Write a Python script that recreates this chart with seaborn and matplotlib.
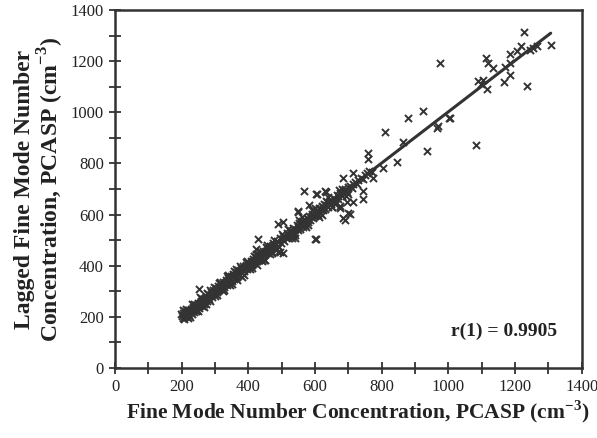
import matplotlib
matplotlib.use("Agg")
import matplotlib.pyplot as plt
import seaborn as sns
import numpy as np
import pandas as pd
from matplotlib.ticker import MultipleLocator

# ---- data ----
band_x = [200, 203, 205, 208, 210, 212, 215, 217, 220, 222, 225, 228, 230, 232, 235, 237, 240, 242, 245, 247,
          250, 252, 255, 257, 260, 262, 265, 268, 270, 272, 275, 278, 280, 282, 285, 288, 290, 292, 295, 298,
          300, 302, 305, 308, 310, 312, 315, 318, 320, 322, 325, 328, 330, 332, 335, 338, 340, 342, 345, 348,
          350, 352, 355, 358, 360, 362, 365, 368, 370, 372, 375, 378, 380, 383, 385, 388, 390, 393, 395, 398,
          400, 403, 405, 408, 410, 413, 415, 418, 420, 423, 425, 428, 430, 433, 435, 438, 440, 443, 445, 448,
          450, 455, 458, 460, 465, 468, 470, 475, 478, 480, 485, 488, 490, 495, 498, 500, 505, 508, 510, 515,
          518, 520, 525, 528, 530, 535, 538, 540, 545, 548, 550, 553, 555, 558, 560, 563, 565, 568, 570, 573,
          575, 578, 580, 583, 585, 588, 590, 593, 595, 598, 600, 603, 605, 608, 610, 613, 615, 618, 620, 623,
          625, 628, 630, 633, 635, 638, 640, 645, 648, 650, 655, 658, 660, 665, 668, 670, 675, 680, 685, 690,
          695, 700, 705, 710, 715, 720, 725, 730, 738, 745, 750, 755, 762, 770]
band_y = [205, 195, 215, 200, 222, 208, 198, 212, 225, 206, 218, 232, 212, 224, 240, 218, 230, 245, 228, 238,
          255, 236, 248, 262, 244, 256, 270, 252, 266, 280, 262, 274, 290, 270, 284, 296, 278, 290, 305, 288,
          300, 314, 296, 310, 322, 304, 316, 330, 312, 326, 338, 318, 332, 345, 326, 340, 352, 334, 348, 360,
          342, 356, 368, 350, 362, 374, 356, 370, 382, 364, 378, 390, 372, 386, 398, 378, 392, 404, 386, 400,
          412, 394, 408, 420, 402, 416, 428, 410, 424, 436, 418, 430, 444, 424, 438, 450, 432, 446, 458, 440,
          454, 468, 450, 462, 478, 458, 472, 488, 470, 482, 498, 478, 494, 508, 490, 504, 518, 498, 512, 528,
          508, 522, 538, 518, 532, 548, 528, 542, 558, 538, 552, 566, 545, 560, 574, 552, 566, 580, 560, 574,
          588, 570, 584, 596, 578, 592, 604, 586, 600, 612, 594, 606, 618, 600, 614, 626, 608, 620, 632, 616,
          628, 640, 622, 636, 648, 630, 644, 656, 640, 652, 664, 650, 662, 676, 660, 672, 686, 674, 690, 700,
          688, 706, 712, 702, 720, 728, 718, 736, 744, 738, 756, 762, 770, 765]

thick_x = [198, 206, 214, 226, 236, 248, 258, 266, 276, 286, 296, 306, 316, 326, 336, 346, 356, 366, 376, 386,
           396, 406, 416, 426, 436, 446, 456, 466, 476, 486, 520, 540, 560, 580, 600, 620, 640, 660, 680, 700,
           204, 218, 232, 244, 254, 272, 284, 300, 312, 324, 338, 352, 364, 380, 392, 410, 422, 440, 452, 470,
           500, 530, 552, 572, 592, 612, 632, 652, 672, 692]
thick_y = [212, 190, 230, 200, 252, 222, 274, 240, 292, 262, 316, 284, 336, 306, 358, 326, 378, 344, 398, 362,
           418, 386, 438, 404, 458, 424, 480, 446, 500, 464, 545, 520, 590, 560, 625, 598, 668, 640, 700, 680,
           228, 196, 252, 222, 278, 250, 306, 280, 334, 302, 362, 330, 388, 356, 414, 390, 444, 418, 474, 450,
           525, 510, 578, 552, 616, 592, 655, 630, 696, 672]

outlier_x = [253, 430, 490, 505, 600, 568, 548, 685, 705, 675, 715, 745, 745, 630, 605, 650, 760, 760, 805, 845,
             810, 865, 880, 923, 935, 967, 775, 490, 505, 450, 685, 715, 603, 633, 550, 583, 423, 495, 540, 603,
             700, 690, 675, 696, 1003, 1082, 1228, 1307, 975, 1113, 1120, 1135, 1090, 1105, 1115, 1167, 1185,
             1185, 1170, 1185, 1217, 1207, 1245, 1235, 1098, 970, 1005, 1255, 1265]
outlier_y = [308, 503, 563, 571, 503, 693, 615, 585, 602, 633, 650, 693, 659, 693, 679, 631, 839, 816, 781, 807,
             924, 885, 976, 1005, 848, 937, 742, 455, 448, 422, 742, 761, 680, 689, 611, 637, 464, 455, 507, 503,
             605, 579, 624, 650, 978, 874, 1313, 1264, 1192, 1213, 1193, 1173, 1122, 1127, 1090, 1118, 1144,
             1192, 1176, 1226, 1261, 1239, 1245, 1102, 1110, 945, 978, 1252, 1258]

x_ticks = [0, 200, 400, 600, 800, 1000, 1200, 1400]
y_ticks = [0, 200, 400, 600, 800, 1000, 1200, 1400]
x_label = r"Fine Mode Number Concentration, PCASP (cm$^{\mathbf{-3}}$)"
y_label = "Lagged Fine Mode Number\n" + r"Concentration, PCASP (cm$^{\mathbf{-3}}$)"
r_text = "r(1) = 0.9905"

df = pd.DataFrame({
    "x": band_x + thick_x + outlier_x,
    "y": band_y + thick_y + outlier_y,
})

# ---- style ----
sns.set_style("white")
plt.rcParams["font.family"] = ["Liberation Serif", "DejaVu Serif"]
plt.rcParams["mathtext.fontset"] = "custom"
plt.rcParams["mathtext.rm"] = "Liberation Serif"
plt.rcParams["mathtext.bf"] = "Liberation Serif:bold"

ink = "#333333"
fig = plt.figure(figsize=(5.97, 4.38), dpi=100)
ax = fig.add_axes([115 / 597, 1 - 368 / 438, (581.7 - 115) / 597, (368 - 10) / 438])

sns.scatterplot(data=df, x="x", y="y", ax=ax, marker="x", s=26, color=ink,
                linewidth=1.4, legend=False)
sns.regplot(data=df, x="x", y="y", ax=ax, scatter=False, ci=None, truncate=True,
            line_kws=dict(color=ink, lw=2.2))

ax.set_xlim(0, 1400)
ax.set_ylim(0, 1400)
ax.set_xticks(x_ticks)
ax.set_yticks(y_ticks)
ax.set_xticklabels([str(t) for t in x_ticks])
ax.set_yticklabels([str(t) for t in y_ticks])
ax.xaxis.set_minor_locator(MultipleLocator(100))
ax.yaxis.set_minor_locator(MultipleLocator(100))
ax.tick_params(which="both", direction="inout", length=8, width=1.3, color=ink,
               bottom=True, left=True, top=False, right=False)
ax.tick_params(which="major", labelsize=12, labelcolor="#222222", pad=4)
for sp in ax.spines.values():
    sp.set_color(ink)
    sp.set_linewidth(1.8)

ax.set_xlabel(x_label, fontsize=15.5, fontweight="bold", color="#222222", labelpad=3)
ax.xaxis.set_label_coords(0.52, -0.085)
ax.set_ylabel(y_label, fontsize=17, fontweight="bold", color="#222222", labelpad=3,
              linespacing=1.05)

ax.text(1168, 144, r_text, fontsize=14, fontweight="bold", color="#222222",
        ha="center", va="center")

fig.savefig("out.png", dpi=100)
